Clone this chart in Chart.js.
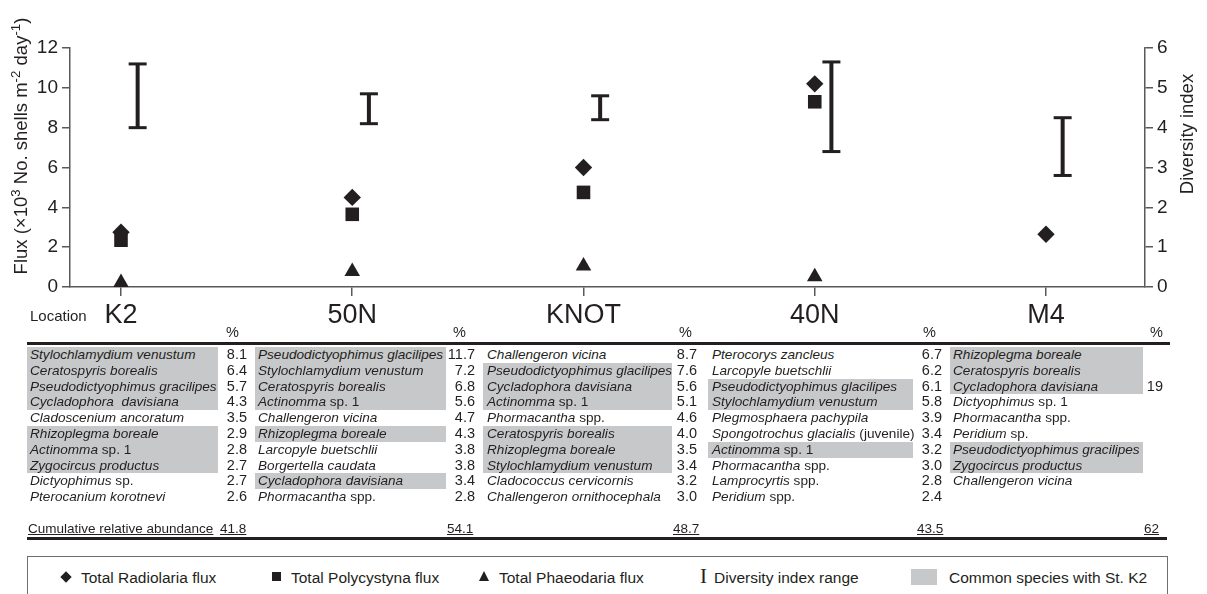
<!DOCTYPE html>
<html lang="en">
<head>
<meta charset="utf-8">
<title>Radiolarian flux, diversity and dominant species</title>
<script src="https://cdn.jsdelivr.net/npm/chart.js@4.4.1/dist/chart.umd.min.js"></script>
<style>
  html, body { margin: 0; padding: 0; background: #fff; }
  body { position: relative; width: 1207px; height: 594px; overflow: hidden;
         font-family: "Liberation Sans", Arial, Helvetica, sans-serif; color: #231f20; }
  #fluxChart { position: absolute; left: 0; top: 0; }
  .band { position: absolute; background: #c7c8ca; }
  .name { position: absolute; font-size: 13.6px; font-style: italic; white-space: pre; line-height: 15.8px; }
  .name .plain { font-style: normal; }
  .pct { position: absolute; font-size: 14.5px; line-height: 15.8px; text-align: right; white-space: pre; }
  .hdr { position: absolute; font-size: 14.5px; }
  .rule { position: absolute; background: #231f20; }
  .cum { position: absolute; font-size: 13.5px; text-decoration: underline; white-space: pre; }
  #legend { position: absolute; left: 27px; top: 556px; width: 1141px; height: 60px;
            border: 1px solid #6d6e71; box-sizing: border-box; }
  .lg { position: absolute; top: 12px; font-size: 15.5px; white-space: pre; }
</style>
</head>
<body>
<canvas id="fluxChart" width="1207" height="345"></canvas>
<div id="table"></div>
<div id="legend"></div>
<script>
// ---- station values ----
const locations = ['K2', '50N', 'KNOT', '40N', 'M4'];
const radiolariaFlux = [2.75, 4.5, 6.0, 10.2, 2.65];
const polycystynaFlux = [2.35, 3.65, 4.75, 9.3, null];
const phaeodariaFlux = [0.22, 0.78, 1.05, 0.52, null];
const diversityLow = [4.0, 4.1, 4.2, 3.4, 2.8];
const diversityHigh = [5.6, 4.85, 4.8, 5.65, 4.25];
const fluxTicks = [0, 2, 4, 6, 8, 10, 12];
const diversityTicks = [0, 1, 2, 3, 4, 5, 6];

// ---- dominant species per station (relative abundance, %) ----
const k2Species = ['Stylochlamydium venustum', 'Ceratospyris borealis', 'Pseudodictyophimus gracilipes',
  'Cycladophora  davisiana', 'Cladoscenium ancoratum', 'Rhizoplegma boreale', 'Actinomma sp. 1',
  'Zygocircus productus', 'Dictyophimus sp.', 'Pterocanium korotnevi'];
const k2Percent = [8.1, 6.4, 5.7, 4.3, 3.5, 2.9, 2.8, 2.7, 2.7, 2.6];
const k2Common = [1, 1, 1, 1, 0, 1, 1, 1, 0, 0];

const n50Species = ['Pseudodictyophimus glacilipes', 'Stylochlamydium venustum', 'Ceratospyris borealis',
  'Actinomma sp. 1', 'Challengeron vicina', 'Rhizoplegma boreale', 'Larcopyle buetschlii',
  'Borgertella caudata', 'Cycladophora davisiana', 'Phormacantha spp.'];
const n50Percent = [11.7, 7.2, 6.8, 5.6, 4.7, 4.3, 3.8, 3.8, 3.4, 2.8];
const n50Common = [1, 1, 1, 1, 0, 1, 0, 0, 1, 0];

const knotSpecies = ['Challengeron vicina', 'Pseudodictyophimus glacilipes', 'Cycladophora davisiana',
  'Actinomma sp. 1', 'Phormacantha spp.', 'Ceratospyris borealis', 'Rhizoplegma boreale',
  'Stylochlamydium venustum', 'Cladococcus cervicornis', 'Challengeron ornithocephala'];
const knotPercent = [8.7, 7.6, 5.6, 5.1, 4.6, 4.0, 3.5, 3.4, 3.2, 3.0];
const knotCommon = [0, 1, 1, 1, 0, 1, 1, 1, 0, 0];

const n40Species = ['Pterocorys zancleus', 'Larcopyle buetschlii', 'Pseudodictyophimus glacilipes',
  'Stylochlamydium venustum', 'Plegmosphaera pachypila', 'Spongotrochus glacialis (juvenile)',
  'Actinomma sp. 1', 'Phormacantha spp.', 'Lamprocyrtis spp.', 'Peridium spp.'];
const n40Percent = [6.7, 6.2, 6.1, 5.8, 3.9, 3.4, 3.2, 3.0, 2.8, 2.4];
const n40Common = [0, 0, 1, 1, 0, 0, 1, 0, 0, 0];

const m4Species = ['Rhizoplegma boreale', 'Ceratospyris borealis', 'Cycladophora davisiana',
  'Dictyophimus sp. 1', 'Phormacantha spp.', 'Peridium sp.', 'Pseudodictyophimus gracilipes',
  'Zygocircus productus', 'Challengeron vicina'];
const m4Percent = [null, null, 19, null, null, null, null, null, null];
const m4Common = [1, 1, 1, 0, 0, 0, 1, 1, 0];

const cumulativeAbundance = [41.8, 54.1, 48.7, 43.5, 62];

// ---- drawing ----
const ink = '#231f20';
const axisInk = '#58595b';
const FONT = '"Liberation Sans", Arial, Helvetica, sans-serif';
Chart.defaults.font.family = FONT;
Chart.defaults.color = ink;

// plot frame (px) and station spacing along the x axis
const PLOT = { left: 70, right: 1145, top: 48, bottom: 287, height: 345 };
const FIRST_X = 121, STEP = 231.25;
const xMin = (PLOT.left - FIRST_X) / STEP;
const xMax = (PLOT.right - FIRST_X) / STEP;
const RANGE_SHIFT = 0.072;   // diversity bars sit just right of each station

const toPoints = vals => vals.map((v, i) => ({ x: i, y: v })).filter(p => p.y !== null);
const rangePoints = [];
locations.forEach((_, i) => {
  rangePoints.push({ x: i + RANGE_SHIFT, y: diversityLow[i] });
  rangePoints.push({ x: i + RANGE_SHIFT, y: diversityHigh[i] });
  rangePoints.push({ x: i + RANGE_SHIFT, y: null });
});

const fluxTitle = [
  { t: 'Flux (×10' }, { t: '3', sup: true }, { t: ' No. shells m' }, { t: '-2', sup: true },
  { t: ' day' }, { t: '-1', sup: true }, { t: ')' }
];

function drawRich(ctx, parts, cx, cy, size) {
  const widths = parts.map(p => {
    ctx.font = (p.sup ? size * 0.72 : size) + 'px ' + FONT;
    return ctx.measureText(p.t).width;
  });
  const total = widths.reduce((a, b) => a + b, 0);
  ctx.save();
  ctx.translate(cx, cy);
  ctx.rotate(-Math.PI / 2);
  ctx.textBaseline = 'middle';
  ctx.textAlign = 'left';
  let x = -total / 2;
  parts.forEach((p, i) => {
    ctx.font = (p.sup ? size * 0.72 : size) + 'px ' + FONT;
    ctx.fillText(p.t, x, p.sup ? -size * 0.3 : 0);
    x += widths[i];
  });
  ctx.restore();
}

const captions = {
  id: 'captions',
  afterDraw(chart) {
    const ctx = chart.ctx;
    ctx.save();
    ctx.fillStyle = ink;
    drawRich(ctx, fluxTitle, 22, 146, 18.5);
    ctx.translate(1188, 134);
    ctx.rotate(-Math.PI / 2);
    ctx.font = '18.5px ' + FONT;
    ctx.textAlign = 'center';
    ctx.textBaseline = 'middle';
    ctx.fillText('Diversity index', 0, 0);
    ctx.restore();
    ctx.save();
    ctx.fillStyle = ink;
    ctx.font = '15px ' + FONT;
    ctx.textBaseline = 'middle';
    ctx.fillText('Location', 30, 317);
    ctx.restore();
  }
};

const tickGrid = { drawOnChartArea: false, drawTicks: true, tickLength: 8, color: axisInk, lineWidth: 1.5 };
const axisBorder = { display: true, color: axisInk, width: 1.5 };

new Chart(document.getElementById('fluxChart'), {
  type: 'scatter',
  data: {
    datasets: [
      { label: 'Total Radiolaria flux', data: toPoints(radiolariaFlux), yAxisID: 'yFlux',
        pointStyle: 'rectRot', pointRadius: 8.7, pointBorderWidth: 0, backgroundColor: ink, borderColor: ink },
      { label: 'Total Polycystyna flux', data: toPoints(polycystynaFlux), yAxisID: 'yFlux',
        pointStyle: 'rect', pointRadius: 9.6, pointBorderWidth: 0, backgroundColor: ink, borderColor: ink },
      { label: 'Total Phaeodaria flux', data: toPoints(phaeodariaFlux), yAxisID: 'yFlux',
        pointStyle: 'triangle', pointRadius: 9, pointBorderWidth: 0, backgroundColor: ink, borderColor: ink },
      { type: 'line', label: 'Diversity index range', data: rangePoints, yAxisID: 'yDiv',
        showLine: true, spanGaps: false, tension: 0, fill: false,
        borderColor: ink, borderWidth: 4, borderCapStyle: 'butt',
        pointStyle: 'line', pointRadius: 9, pointBorderWidth: 3, pointBorderColor: ink }
    ]
  },
  options: {
    responsive: false,
    animation: false,
    events: [],
    layout: { padding: { top: PLOT.top, left: 0, right: 0, bottom: 0 } },
    plugins: { legend: { display: false }, tooltip: { enabled: false } },
    scales: {
      x: {
        type: 'linear', position: 'bottom', min: xMin, max: xMax,
        afterBuildTicks: s => { s.ticks = locations.map((_, i) => ({ value: i })); },
        afterFit: s => { s.height = PLOT.height - PLOT.bottom; },
        ticks: { callback: v => locations[v], font: { size: 27 }, color: ink, padding: 3, maxRotation: 0, autoSkip: false },
        grid: { ...tickGrid, tickLength: 9 },
        border: axisBorder
      },
      yFlux: {
        type: 'linear', position: 'left', min: fluxTicks[0], max: fluxTicks[fluxTicks.length - 1],
        afterBuildTicks: s => { s.ticks = fluxTicks.map(v => ({ value: v })); },
        afterFit: s => { s.width = PLOT.left; },
        ticks: { font: { size: 19 }, color: ink, padding: 4 },
        grid: tickGrid,
        border: axisBorder
      },
      yDiv: {
        type: 'linear', position: 'right', min: diversityTicks[0], max: diversityTicks[diversityTicks.length - 1],
        afterBuildTicks: s => { s.ticks = diversityTicks.map(v => ({ value: v })); },
        afterFit: s => { s.width = 1207 - PLOT.right; },
        ticks: { font: { size: 19 }, color: ink, padding: 4 },
        grid: tickGrid,
        border: axisBorder
      }
    }
  },
  plugins: [captions]
});

// ---- species table ----
const table = document.getElementById('table');
const ROW_TOP = 347, ROW_H = 15.8;
const columns = [
  { species: k2Species, pct: k2Percent, common: k2Common, nameX: 30, band: [27, 218], pctRight: 247, hdrX: 226, digits: 1 },
  { species: n50Species, pct: n50Percent, common: n50Common, nameX: 258, band: [255, 446], pctRight: 475, hdrX: 453, digits: 1 },
  { species: knotSpecies, pct: knotPercent, common: knotCommon, nameX: 487, band: [483, 672], pctRight: 697, hdrX: 679, digits: 1 },
  { species: n40Species, pct: n40Percent, common: n40Common, nameX: 712, band: [708, 913], pctRight: 942, hdrX: 923, digits: 1 },
  { species: m4Species, pct: m4Percent, common: m4Common, nameX: 953, band: [950, 1143], pctRight: 1163, hdrX: 1150, digits: 0 }
];

function el(cls, css, html) {
  const d = document.createElement('div');
  d.className = cls;
  Object.assign(d.style, css);
  if (html !== undefined) d.innerHTML = html;
  table.appendChild(d);
  return d;
}

function speciesHtml(name) {
  const m = name.match(/^(.*?)(\s+(?:sp\.|spp\.|\(juvenile\)).*)?$/);
  return m[1] + (m[2] ? '<span class="plain">' + m[2] + '</span>' : '');
}

columns.forEach((c, ci) => {
  // shaded runs for species shared with K2
  let i = 0;
  while (i < c.common.length) {
    if (c.common[i]) {
      let j = i;
      while (j + 1 < c.common.length && c.common[j + 1]) j++;
      el('band', { left: c.band[0] + 'px', width: (c.band[1] - c.band[0]) + 'px',
        top: (ROW_TOP + i * ROW_H) + 'px', height: ((j - i + 1) * ROW_H) + 'px' });
      i = j + 1;
    } else i++;
  }
  c.species.forEach((s, r) => {
    el('name', { left: c.nameX + 'px', top: (ROW_TOP + r * ROW_H) + 'px' }, speciesHtml(s));
  });
  c.pct.forEach((v, r) => {
    if (v === null) return;
    el('pct', { left: (c.pctRight - 60) + 'px', width: '60px', top: (ROW_TOP + r * ROW_H) + 'px' }, v.toFixed(c.digits));
  });
  el('hdr', { left: c.hdrX + 'px', top: '324px' }, '%');
  el('cum', { left: (c.hdrX - 6) + 'px', top: '521px' }, String(cumulativeAbundance[ci]));
});
el('rule', { left: '27px', top: '342px', width: '1143px', height: '2.5px' });
el('cum', { left: '28px', top: '521px' }, 'Cumulative relative abundance');
el('rule', { left: '27px', top: '537px', width: '1140px', height: '2.5px' });

// ---- key ----
const legend = document.getElementById('legend');
const keyItems = [
  { label: 'Total Radiolaria flux', x: 53, sym: 'diamond' },
  { label: 'Total Polycystyna flux', x: 263, sym: 'square' },
  { label: 'Total Phaeodaria flux', x: 471, sym: 'triangle' },
  { label: 'Diversity index range', x: 686, sym: 'range' },
  { label: 'Common species with St. K2', x: 921, sym: 'shade' }
];
keyItems.forEach(k => {
  const s = document.createElement('div');
  if (k.sym === 'diamond') Object.assign(s.style, { position: 'absolute', left: (k.x - 19) + 'px', top: '16px', width: '8px', height: '8px', background: ink, transform: 'rotate(45deg)' });
  if (k.sym === 'square') Object.assign(s.style, { position: 'absolute', left: (k.x - 19) + 'px', top: '15px', width: '9px', height: '9px', background: ink });
  if (k.sym === 'triangle') Object.assign(s.style, { position: 'absolute', left: (k.x - 20) + 'px', top: '14px', width: 0, height: 0,
    borderLeft: '5px solid transparent', borderRight: '5px solid transparent', borderBottom: '10px solid ' + ink });
  if (k.sym === 'range') { Object.assign(s.style, { position: 'absolute', left: (k.x - 14) + 'px', top: '7px', fontFamily: '"Liberation Serif", serif', fontSize: '21px', color: ink }); s.textContent = 'I'; }
  if (k.sym === 'shade') Object.assign(s.style, { position: 'absolute', left: (k.x - 38) + 'px', top: '12px', width: '26px', height: '16px', background: '#c7c8ca' });
  legend.appendChild(s);
  const t = document.createElement('div');
  t.className = 'lg';
  t.style.left = k.x + 'px';
  t.textContent = k.label;
  legend.appendChild(t);
});
</script>
</body>
</html>
